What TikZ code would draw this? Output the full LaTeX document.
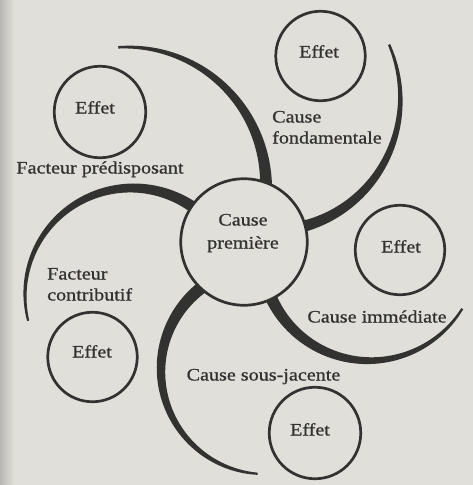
\documentclass[tikz,border=0pt]{standalone}
\usepackage{fontspec}
\setmainfont{Liberation Serif}[FakeStretch=1.15,FakeBold=0.9]

\definecolor{paper}{RGB}{224,223,218}
\definecolor{ink}{RGB}{50,50,48}

% One tapering arm of the pinwheel: a spiral band around (#1,#2),
% from angle #3 (thin end) to angle #4 (thick end), radius #5 -> #6,
% width #7 -> #8.
\newcommand\pinwheelarm[8]{%
  \fill[ink]
    plot[domain=0:1,samples=80,variable=\t]
      ({(#1)+((#5)+((#6)-(#5))*\t+((#7)+((#8)-(#7))*\t)/2)*cos((#3)+((#4)-(#3))*\t)},
       {(#2)+((#5)+((#6)-(#5))*\t+((#7)+((#8)-(#7))*\t)/2)*sin((#3)+((#4)-(#3))*\t)})
    -- plot[domain=0:1,samples=80,variable=\t]
      ({(#1)+((#5)+((#6)-(#5))*(1-\t)-((#7)+((#8)-(#7))*(1-\t))/2)*cos((#3)+((#4)-(#3))*(1-\t))},
       {(#2)+((#5)+((#6)-(#5))*(1-\t)-((#7)+((#8)-(#7))*(1-\t))/2)*sin((#3)+((#4)-(#3))*(1-\t))})
    -- cycle;}

\tikzset{
  ring/.style={circle, draw=ink, line width=2.7pt, minimum size=89.5pt, inner sep=0pt},
  hub/.style={circle, draw=ink, fill=paper, line width=2.7pt, minimum size=126.5pt, inner sep=0pt},
  lbl/.style={text=ink, inner sep=0pt, font=\fontsize{17.5}{21}\selectfont},
}

\begin{document}
\begin{tikzpicture}[x=1pt,y=-1pt]
  \fill[paper] (0,0) rectangle (473,485);
  \useasboundingbox (0,0) rectangle (473,485);
  \shade[left color=black!18!paper, right color=paper] (0,0) rectangle (14,485);

  % the five arms
  \pinwheelarm{128}{187}{-94}{0}{140}{138}{2.4}{12}
  \pinwheelarm{265}{105}{-26}{75}{138}{127}{2.4}{11.5}
  \pinwheelarm{368}{252}{31}{162}{110}{107}{2.2}{12.5}
  \pinwheelarm{265}{370}{94}{235}{104}{104}{2.2}{12.5}
  \pinwheelarm{132}{295}{166}{310}{107}{107}{2.2}{11.5}

  % central cause
  \node[hub] (hub) at (244,242) {};
  \node[lbl, anchor=base, align=center] (hubtext) at (243,248.5) {Cause\\[2pt]première};

  % effects
  \node[ring] (e1) at (320.5,56) {};
  \node[ring] (e2) at (400,250) {};
  \node[ring, minimum size=91.5pt] (e3) at (100,112) {};
  \node[ring] (e4) at (92.5,357) {};
  \node[ring, minimum size=91.5pt] (e5) at (315,433) {};
  \node[lbl, anchor=base] (e1text) at (319,57.5) {Effet};
  \node[lbl, anchor=base] (e2text) at (401,252.5) {Effet};
  \node[lbl, anchor=base] (e3text) at (95,113.5) {Effet};
  \node[lbl, anchor=base] (e4text) at (92,357.5) {Effet};
  \node[lbl, anchor=base] (e5text) at (310,435.5) {Effet};

  % arm labels
  \node[lbl, anchor=base west, align=left] (fond) at (272,143.5) {Cause\\fondamentale};
  \node[lbl, anchor=base] (pred) at (100,173.5) {Facteur prédisposant};
  \node[lbl, anchor=base west, align=left] (contr) at (47,300.5) {Facteur\\contributif};
  \node[lbl, anchor=base] (immed) at (377,322.5) {Cause immédiate};
  \node[lbl, anchor=base] (sousj) at (263.5,380.5) {Cause sous-jacente};
\end{tikzpicture}
\end{document}
